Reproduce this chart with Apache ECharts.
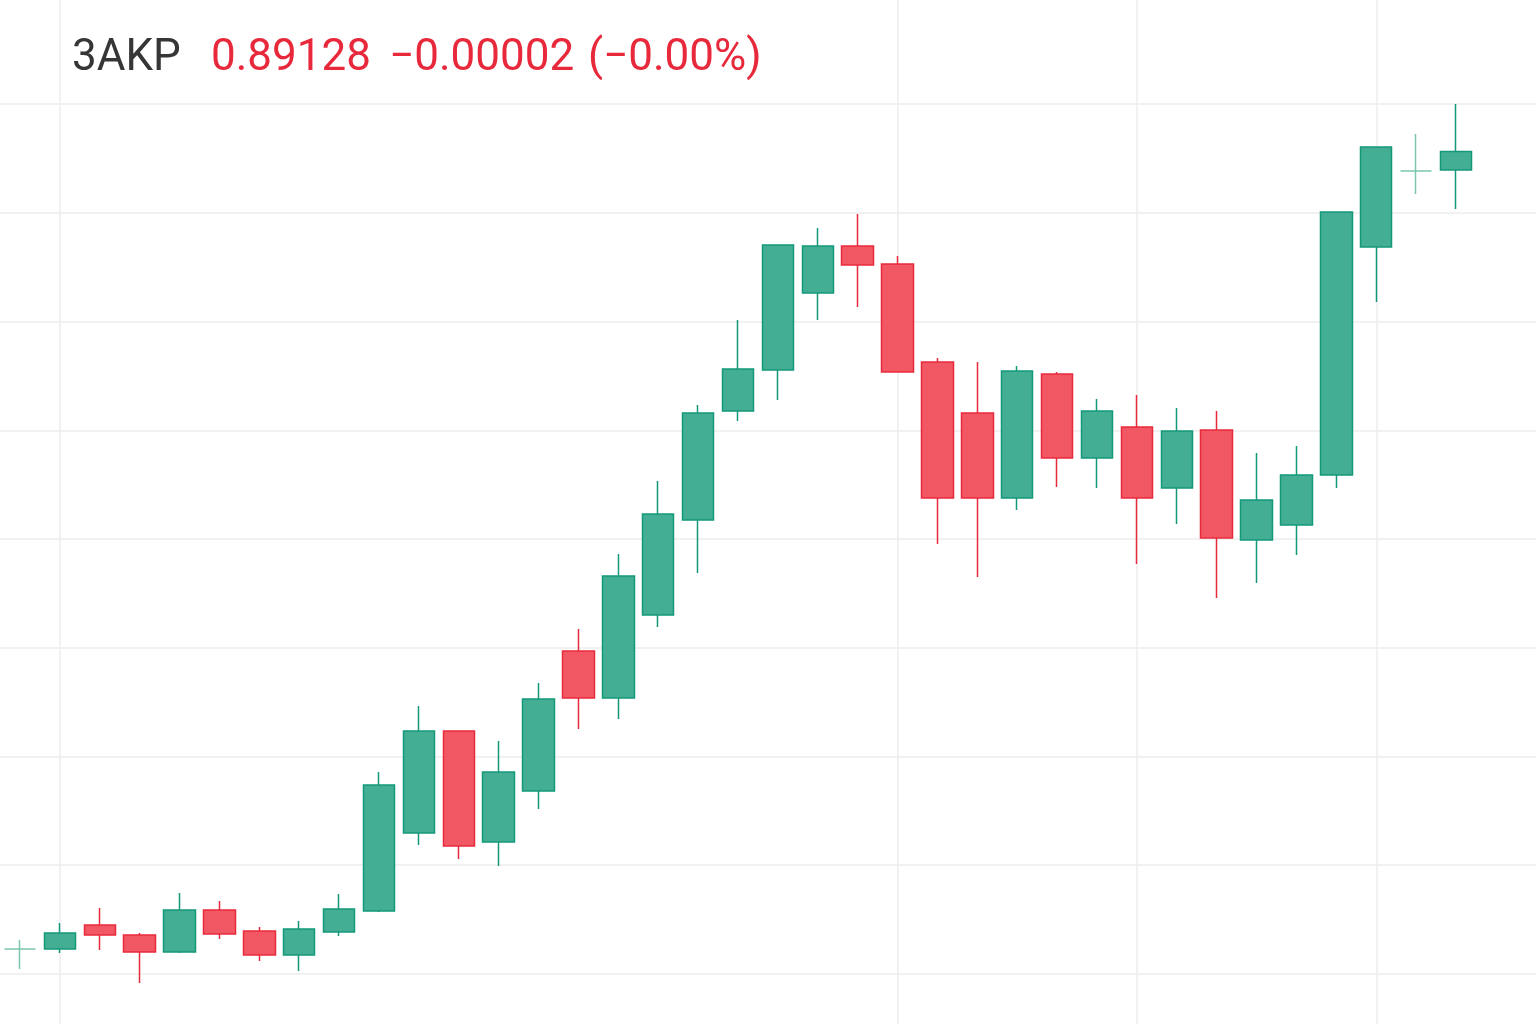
<!DOCTYPE html>
<html>
<head>
<meta charset="utf-8">
<title>3AKP</title>
<script src="https://cdn.jsdelivr.net/npm/echarts@6/dist/echarts.min.js"></script>
<style>
  html, body { margin: 0; padding: 0; background: #ffffff; }
  #container { width: 1536px; height: 1024px; }
</style>
</head>
<body>
<div id="container"></div>
<script>
var dom = document.getElementById("container");
var myChart = echarts.init(dom);

// ticker header
var symbol = '3AKP';
var lastPrice = '0.89128';
var change = '\u22120.00002';
var changePct = '(\u22120.00%)';

var days = [
    '2024-05-01', '2024-05-02', '2024-05-03', '2024-05-04', '2024-05-05', '2024-05-06', '2024-05-07',
    '2024-05-08', '2024-05-09', '2024-05-10', '2024-05-11', '2024-05-12', '2024-05-13', '2024-05-14',
    '2024-05-15', '2024-05-16', '2024-05-17', '2024-05-18', '2024-05-19', '2024-05-20', '2024-05-21',
    '2024-05-22', '2024-05-23', '2024-05-24', '2024-05-25', '2024-05-26', '2024-05-27', '2024-05-28',
    '2024-05-29', '2024-05-30', '2024-05-31', '2024-06-01', '2024-06-02', '2024-06-03', '2024-06-04',
    '2024-06-05', '2024-06-06'
];

var opens = [0.74460, 0.74460, 0.74901, 0.74717, 0.74405, 0.75177, 0.74791, 0.74349, 0.74772, 0.75158,
    0.76593, 0.78469, 0.76428, 0.77366, 0.79940, 0.79076, 0.80602, 0.82349, 0.84354, 0.85108,
    0.86524, 0.87389, 0.87057, 0.85255, 0.84317, 0.82754, 0.85034, 0.83490, 0.84060, 0.82938,
    0.84005, 0.81982, 0.82257, 0.83177, 0.87370, 0.88768, 0.88786];
var closes = [0.74460, 0.74754, 0.74717, 0.74405, 0.75177, 0.74736, 0.74349, 0.74828, 0.75195, 0.77476,
    0.78469, 0.76354, 0.77715, 0.79057, 0.79076, 0.81320, 0.82460, 0.84317, 0.85126, 0.87407,
    0.87389, 0.87039, 0.85071, 0.82754, 0.82754, 0.85090, 0.83490, 0.84354, 0.82754, 0.83986,
    0.82018, 0.82717, 0.83177, 0.88014, 0.89209, 0.88768, 0.89128];
var lows = [0.74092, 0.74386, 0.74441, 0.73834, 0.74386, 0.74644, 0.74239, 0.74055, 0.74699, 0.75140,
    0.76372, 0.76115, 0.75986, 0.77034, 0.78506, 0.78690, 0.80382, 0.81375, 0.84170, 0.84556,
    0.86028, 0.86267, 0.85060, 0.81908, 0.81301, 0.82533, 0.82956, 0.82938, 0.81540, 0.82276,
    0.80915, 0.81191, 0.81706, 0.82938, 0.86359, 0.88345, 0.88069];
var highs = [0.74625, 0.74938, 0.75214, 0.74754, 0.75489, 0.75342, 0.74864, 0.74975, 0.75471, 0.77715,
    0.78929, 0.78480, 0.78285, 0.79352, 0.80345, 0.81724, 0.83067, 0.84464, 0.86028, 0.87420,
    0.87720, 0.87977, 0.87205, 0.85329, 0.85255, 0.85182, 0.85071, 0.84575, 0.84648, 0.84409,
    0.84354, 0.83582, 0.83710, 0.88020, 0.89220, 0.89448, 0.90000];

// days that start a new period (vertical grid lines)
var periodStarts = [1, 22, 28, 34];

var upFill = '#43ae93', upLine = '#13997a';
var downFill = '#f15864', downLine = '#e92a3c';
var dojiLine = '#7cc6b1';
var gridColor = '#ededed';

var candles = days.map(function (d, i) {
    var item = { value: [opens[i], closes[i], lows[i], highs[i]] };
    if (opens[i] === closes[i]) {
        item.itemStyle = { color: dojiLine, color0: dojiLine, borderColor: dojiLine, borderColor0: dojiLine };
    }
    return item;
});

var titleFont = { fontFamily: 'Roboto', fontSize: 44, fontWeight: 'normal' };
function header(left, text, color) {
    return {
        left: left, top: 37, padding: 0, text: text,
        textStyle: Object.assign({ color: color }, titleFont)
    };
}

var priceAxis = {
    type: 'value',
    min: 0.70,
    max: 0.92,
    interval: 0.02,
    axisLine: { show: false },
    axisTick: { show: false },
    axisLabel: { show: false }
};

var option = {
    backgroundColor: '#ffffff',
    animation: false,
    title: [
        header(72, symbol, '#363636'),
        header(211, lastPrice, '#e8283b'),
        header(389, change, '#e8283b'),
        header(588, changePct, '#e8283b')
    ],
    grid: [
        // full-width background grid for the horizontal price lines
        { left: 0, right: 0, top: -4.75, bottom: -167.5, outerBoundsMode: 'none', containLabel: false },
        // candle grid
        { left: 0, right: 60, top: -4.75, bottom: -167.5, outerBoundsMode: 'none', containLabel: false }
    ],
    xAxis: [{
        gridIndex: 0,
        type: 'value',
        min: 0,
        max: 1,
        show: false
    }, {
        gridIndex: 1,
        type: 'category',
        data: days,
        boundaryGap: true,
        axisLine: { show: false },
        axisTick: { show: false },
        axisLabel: { show: false },
        splitLine: { show: false }
    }],
    yAxis: [
        Object.assign({ gridIndex: 0, splitLine: { show: true, lineStyle: { color: gridColor, width: 1.5 } } }, priceAxis),
        Object.assign({ gridIndex: 1, splitLine: { show: false } }, priceAxis)
    ],
    series: [{
        type: 'candlestick',
        xAxisIndex: 1,
        yAxisIndex: 1,
        data: candles,
        barWidth: '80%',
        itemStyle: {
            color: upFill,
            color0: downFill,
            borderColor: upLine,
            borderColor0: downLine,
            borderWidth: 1.5
        },
        emphasis: { disabled: true },
        markLine: {
            z: 1,
            silent: true,
            symbol: ['none', 'none'],
            label: { show: false },
            lineStyle: { color: gridColor, width: 1.5, type: 'solid' },
            emphasis: { disabled: true },
            data: periodStarts.map(function (i) { return { xAxis: i }; })
        }
    }]
};

if (option && typeof option === "object") {
    myChart.setOption(option, false);
}
</script>
</body>
</html>
